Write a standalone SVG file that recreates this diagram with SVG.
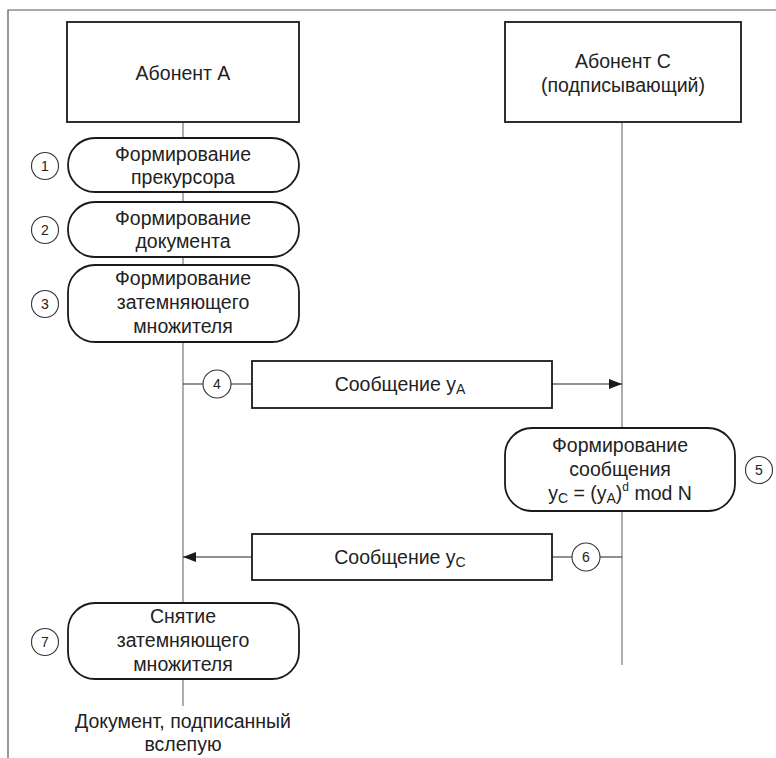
<svg xmlns="http://www.w3.org/2000/svg" width="776" height="758" viewBox="0 0 776 758">
<style>
text{font-family:"Liberation Sans",Arial,sans-serif;font-size:19.5px;fill:#222;text-anchor:middle}
.n{font-size:14px}
.box{fill:#fff;stroke:#1a1a1a;stroke-width:1.8}
.circ{fill:#fff;stroke:#333;stroke-width:1.1}
.life{stroke:#777;stroke-width:1.2;fill:none}
.msg{stroke:#222;stroke-width:1.1;fill:none}
.sub{font-size:14px}
.sup{font-size:12px}
</style>
<defs>
<marker id="ah" markerWidth="13" markerHeight="10" refX="13" refY="5" orient="auto" markerUnits="userSpaceOnUse">
<path d="M0,0 L13,5 L0,10 z" fill="#1a1a1a"/>
</marker>
</defs>
<rect x="0" y="0" width="776" height="758" fill="#fff"/>
<path d="M8,758 V10 H776" fill="none" stroke="#555" stroke-width="1.2"/>
<g id="connectors">
<line class="life" x1="183" y1="122" x2="183" y2="706"/>
<line class="life" x1="622" y1="122" x2="622" y2="665"/>
<line class="msg" x1="183" y1="384" x2="622" y2="384" marker-end="url(#ah)"/>
<line class="msg" x1="622" y1="557" x2="183" y2="557" marker-end="url(#ah)"/>
</g>
<g id="abonentA">
<rect class="box" x="67" y="22" width="232" height="100"/>
<text x="183" y="80">Абонент А</text>
</g>
<g id="abonentC">
<rect class="box" x="505" y="22" width="236" height="100"/>
<text x="623" y="68">Абонент С</text>
<text x="623" y="92">(подписывающий)</text>
</g>
<g id="step1">
<rect class="box" x="68" y="138" width="231" height="54" rx="27" ry="27"/>
<text x="183" y="161">Формирование</text>
<text x="183" y="184">прекурсора</text>
<circle class="circ" cx="45" cy="166" r="13.5"/>
<text class="n" x="45" y="171">1</text>
</g>
<g id="step2">
<rect class="box" x="68" y="202" width="231" height="55" rx="27" ry="27"/>
<text x="183" y="225">Формирование</text>
<text x="183" y="248">документа</text>
<circle class="circ" cx="45" cy="230" r="13.5"/>
<text class="n" x="45" y="235">2</text>
</g>
<g id="step3">
<rect class="box" x="68" y="265" width="231" height="77" rx="27" ry="27"/>
<text x="183" y="285">Формирование</text>
<text x="183" y="309">затемняющего</text>
<text x="183" y="333">множителя</text>
<circle class="circ" cx="45" cy="304" r="13.5"/>
<text class="n" x="45" y="309">3</text>
</g>
<g id="msg4">
<circle class="circ" cx="217" cy="384" r="14"/>
<text class="n" x="217" y="389">4</text>
<rect class="box" x="252" y="361" width="300" height="47"/>
<text x="400" y="391">Сообщение y<tspan class="sub" dy="3">A</tspan></text>
</g>
<g id="step5">
<rect class="box" x="505" y="428" width="230" height="83" rx="27" ry="27"/>
<text x="620" y="452">Формирование</text>
<text x="620" y="476">сообщения</text>
<text x="620" y="500">y<tspan class="sub" dy="3">C</tspan><tspan dy="-3"> = (y</tspan><tspan class="sub" dy="3">A</tspan><tspan dy="-3">)</tspan><tspan class="sup" dy="-9">d</tspan><tspan dy="9"> mod N</tspan></text>
<circle class="circ" cx="759" cy="470" r="13.5"/>
<text class="n" x="759" y="475">5</text>
</g>
<g id="msg6">
<rect class="box" x="252" y="534" width="300" height="46"/>
<text x="400" y="564">Сообщение y<tspan class="sub" dy="3">C</tspan></text>
<circle class="circ" cx="586" cy="557" r="14"/>
<text class="n" x="586" y="562">6</text>
</g>
<g id="step7">
<rect class="box" x="68" y="603" width="231" height="76" rx="27" ry="27"/>
<text x="183" y="623">Снятие</text>
<text x="183" y="647">затемняющего</text>
<text x="183" y="671">множителя</text>
<circle class="circ" cx="45" cy="642" r="13.5"/>
<text class="n" x="45" y="647">7</text>
</g>
<g id="result">
<text x="183" y="728">Документ, подписанный</text>
<text x="183" y="751">вслепую</text>
</g>
</svg>
